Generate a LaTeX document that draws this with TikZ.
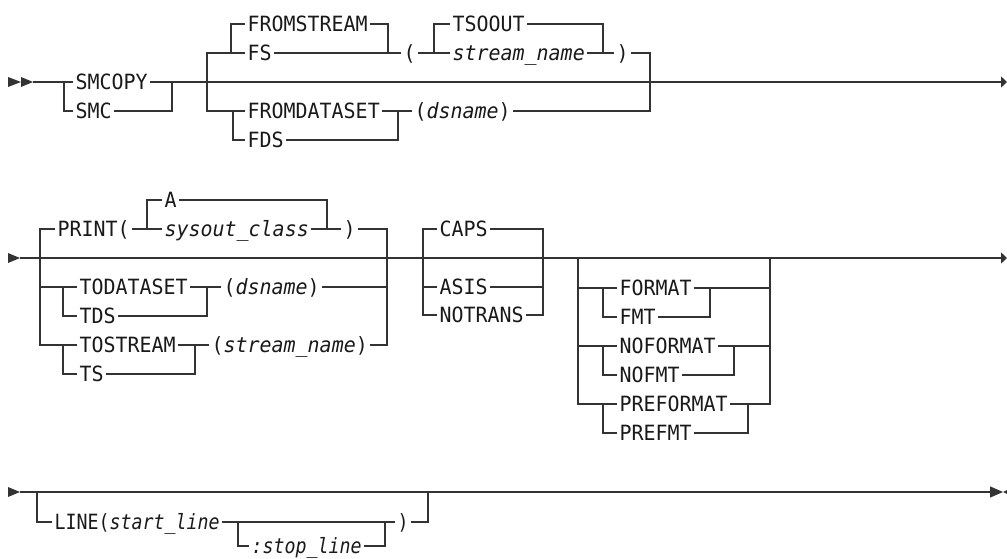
\documentclass[tikz,border=0pt]{standalone}
\usepackage{fontspec}
\newfontfamily\rrmono{DejaVu Sans Mono}[FakeStretch=0.95]
\newfontfamily\narrowmono{DejaVu Sans Mono}[FakeStretch=0.87]
\usepackage{tikz}
\usetikzlibrary{positioning}
\usetikzlibrary{arrows.meta}

\begin{document}
\begin{tikzpicture}[x=1pt,y=-1pt,line width=1.3pt,color=black!80,
    kw/.style={inner sep=0pt,inner xsep=2pt,text height=15.3pt,text depth=0pt,
               anchor=west,text=black!90,font=\rrmono\fontsize{21}{25}\selectfont},
    var/.style={kw,font=\rrmono\itshape\fontsize{21}{25}\selectfont},
    kwn/.style={kw,font=\narrowmono\fontsize{21}{25}\selectfont},
    >={Triangle[length=6pt,width=11pt]}]
    \useasboundingbox (0,0) rectangle (1007,559);

    % Row 1 : SMCOPY / SMC, then the source
    \node (smcopy)     [kw]  at (73,82)   {SMCOPY};
    \node (smc)        [kw]  at (73,111)  {SMC};
    \node (fromstream) [kw]  at (245,24)  {FROMSTREAM};
    \node (fs)         [kw]  at (245,53)  {FS};
    \node (lpar1)      [kw]  at (401,53)  {(};
    \node (tsoout)     [kw]  at (450,24)  {TSOOUT};
    \node (stream1)    [var] at (450,53)  {stream\_name};
    \node (rpar1)      [kw]  at (614,53)  {)};
    \node (fromds)     [kw]  at (245,111) {FROMDATASET};
    \node (fds)        [kw]  at (245,140) {FDS};
    \node (dsname1)    [kw]  at (412,111) {(\textit{dsname})};

    \coordinate (in1)  at (33,82);
    \coordinate (out1) at (1007,82);
    \coordinate (smcL) at (64,82);
    \coordinate (smcR) at (172,82);
    \coordinate (srcL) at (207,82);
    \coordinate (srcR) at (650,82);
    \coordinate (fsL)  at (231,53);
    \coordinate (fsR)  at (388,53);
    \coordinate (tsoL) at (434,53);
    \coordinate (tsoR) at (603,53);
    \coordinate (fdsL) at (233,111);
    \coordinate (fdsR) at (398,111);

    \fill (8,77) -- (21,82) -- (8,87) -- cycle;
    \fill (21,77) -- (33,82) -- (21,87) -- cycle;
    \draw (in1) -- (smcopy.west);
    \draw[->] (smcopy.east) -- (out1);
    \draw (smcL) |- (smc.west);
    \draw (smc.east) -| (smcR);

    \draw (fs.west) -| (srcL) |- (fromds.west);
    \draw (fromstream.west) -| (fsL);
    \draw (fromstream.east) -| (fsR);
    \draw (fs.east) -- (lpar1.west);
    \draw (lpar1.east) -- (stream1.west);
    \draw (tsoout.west) -| (tsoL);
    \draw (tsoout.east) -| (tsoR);
    \draw (stream1.east) -- (rpar1.west);
    \draw (rpar1.east) -| (srcR) |- (dsname1.east);
    \draw (fdsL) |- (fds.west);
    \draw (fds.east) -| (fdsR);
    \draw (fromds.east) -- (dsname1.west);

    % Row 2 : output, translation, format
    \node (print)     [kw]  at (55,229)  {PRINT(};
    \node (classA)    [kw]  at (162,200) {A};
    \node (sysout)    [var] at (162,229) {sysout\_class};
    \node (rpar2)     [kw]  at (341,229) {)};
    \node (tods)      [kw]  at (77,287)  {TODATASET};
    \node (tds)       [kw]  at (77,316)  {TDS};
    \node (dsname2)   [kw]  at (221,287) {(\textit{dsname})};
    \node (tostream)  [kw]  at (77,345)  {TOSTREAM};
    \node (ts)        [kw]  at (77,374)  {TS};
    \node (stream2)   [kw]  at (209,345) {(\textit{stream\_name})};
    \node (caps)      [kw]  at (437,229) {CAPS};
    \node (asis)      [kw]  at (437,287) {ASIS};
    \node (notrans)   [kw]  at (437,315) {NOTRANS};
    \node (format)    [kw]  at (617,288) {FORMAT};
    \node (fmt)       [kw]  at (617,317) {FMT};
    \node (noformat)  [kw]  at (617,346) {NOFORMAT};
    \node (nofmt)     [kw]  at (617,375) {NOFMT};
    \node (preformat) [kw]  at (617,404) {PREFORMAT};
    \node (prefmt)    [kw]  at (617,433) {PREFMT};

    \coordinate (in2)   at (20,258);
    \coordinate (out2)  at (1007,258);
    \coordinate (outL2) at (40,258);
    \coordinate (outR2) at (387,258);
    \coordinate (prL)   at (147,229);
    \coordinate (prR)   at (327,229);
    \coordinate (todsL) at (63,287);
    \coordinate (todsR) at (207,287);
    \coordinate (tostL) at (63,345);
    \coordinate (tostR) at (195,345);
    \coordinate (capsL) at (423,258);
    \coordinate (capsR) at (543,258);
    \coordinate (fmtL)  at (578,258);
    \coordinate (fmtR)  at (770,258);
    \coordinate (fL1)   at (603,288);
    \coordinate (fR1)   at (710,288);
    \coordinate (fL2)   at (603,346);
    \coordinate (fR2)   at (734,346);
    \coordinate (fL3)   at (603,404);
    \coordinate (fR3)   at (748,404);

    \fill (8,253) -- (20,258) -- (8,263) -- cycle;
    \draw[->] (in2) -- (out2);

    \draw (print.west) -| (outL2) |- (tostream.west);
    \draw (outL2) |- (tods.west);
    \draw (print.east) -- (sysout.west);
    \draw (classA.west) -| (prL);
    \draw (classA.east) -| (prR);
    \draw (sysout.east) -- (rpar2.west);
    \draw (rpar2.east) -| (outR2);
    \draw (todsL) |- (tds.west);
    \draw (tds.east) -| (todsR);
    \draw (tods.east) -- (dsname2.west);
    \draw (dsname2.east) -| (outR2);
    \draw (tostL) |- (ts.west);
    \draw (ts.east) -| (tostR);
    \draw (tostream.east) -- (stream2.west);
    \draw (stream2.east) -| (outR2);

    \draw (caps.west) -| (capsL) |- (notrans.west);
    \draw (capsL) |- (asis.west);
    \draw (caps.east) -| (capsR) |- (notrans.east);
    \draw (asis.east) -| (capsR);

    \draw (fmtL) |- (preformat.west);
    \draw (fmtL) |- (format.west);
    \draw (fmtL) |- (noformat.west);
    \draw (fL1) |- (fmt.west);
    \draw (fL2) |- (nofmt.west);
    \draw (fL3) |- (prefmt.west);
    \draw (format.east) -| (fmtR);
    \draw (noformat.east) -| (fmtR);
    \draw (preformat.east) -| (fmtR);
    \draw (fmt.east) -| (fR1);
    \draw (nofmt.east) -| (fR2);
    \draw (prefmt.east) -| (fR3);

    % Row 3 : line range
    \node (line)     [kwn] at (52,522)  {LINE(\textit{start\_line}};
    \node (stopline) [kwn] at (249,546) {\textit{:stop\_line}};
    \node (rpar3)    [kwn] at (395,522) {)};

    \coordinate (in3)  at (20,492);
    \coordinate (out3) at (1003,492);
    \coordinate (lnL)  at (37,492);
    \coordinate (lnR)  at (428,492);
    \coordinate (stL)  at (238,522);
    \coordinate (stR)  at (385,522);

    \fill (8,487) -- (20,492) -- (8,497) -- cycle;
    \draw[-{Triangle[length=13pt,width=11pt]}] (in3) -- (out3);
    \fill (1003,492) -- (1007,490) -- (1007,494) -- cycle;
    \draw (lnL) |- (line.west);
    \draw (line.east) -- (rpar3.west);
    \draw (stL) |- (stopline.west);
    \draw (stopline.east) -| (stR);
    \draw (rpar3.east) -| (lnR);
  \end{tikzpicture}
\end{document}
